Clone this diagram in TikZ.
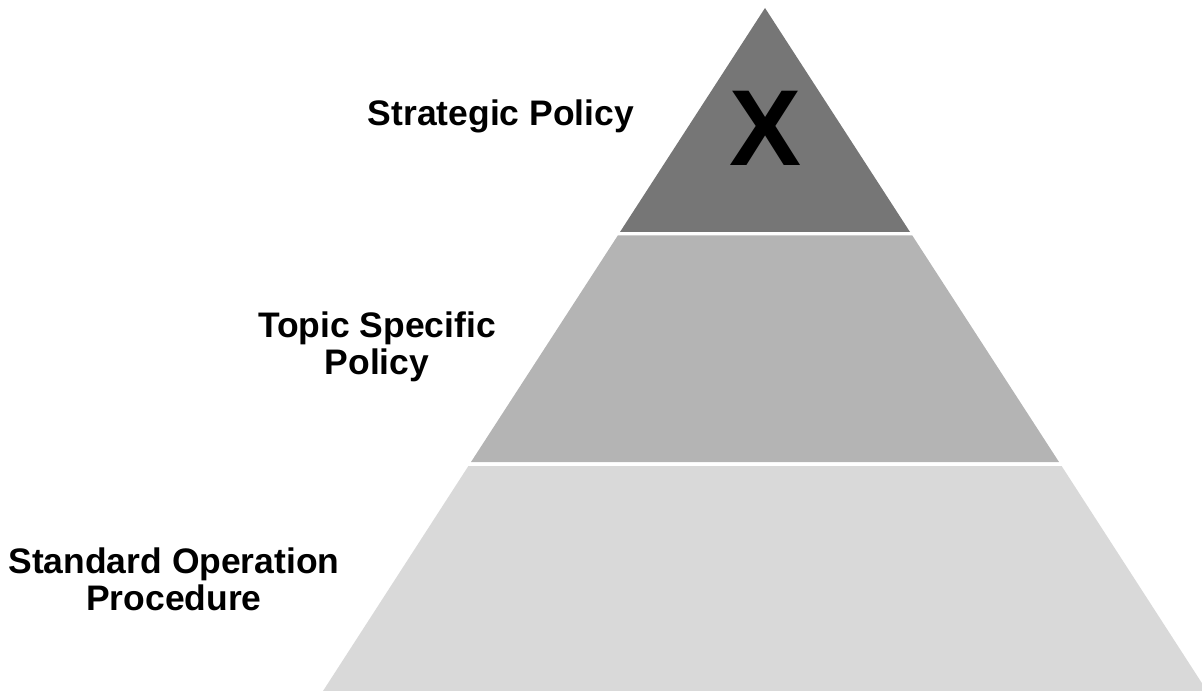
\documentclass[tikz,border=0pt]{standalone}
\usepackage{fontspec}
\setmainfont{Liberation Sans}
\definecolor{tierTop}{RGB}{118,118,118}
\definecolor{tierMid}{RGB}{180,180,180}
\definecolor{tierLow}{RGB}{217,217,217}
\tikzset{
	tierlabel/.style={anchor=center, inner sep=0.75pt, align=center, font=\fontsize{26.6}{28}\selectfont\bfseries},
}
\begin{document}
\begin{tikzpicture}[x=0.75pt,y=0.75pt,yscale=-1,xscale=1]
			\useasboundingbox (0,0) rectangle (1202,691);
			\clip (0,0) rectangle (1202,691);
			%Top tier
			\fill [tierTop] (765,8) -- (910,232) -- (620,232) -- cycle ;
			%Middle tier
			\fill [tierMid] (617.8,235.5) -- (912.3,235.5) -- (1059,462) -- (471,462) -- cycle ;
			%Bottom tier
			\fill [tierLow] (468.4,466) -- (1061.6,466) -- (1207,691) -- (323,691) -- cycle ;
			%Letter in the top tier
			\node (mark) at (766,128) [inner sep=0pt] {\fontsize{81}{81}\selectfont\bfseries X};
			
			\node (strategic) at (501,116) [tierlabel] {Strategic Policy};
			
			\node (topic) at (377,347) [tierlabel] {Topic Specific\\Policy};
			
			\node (standard) at (174,579) [tierlabel] {Standard Operation\\Procedure};
		\end{tikzpicture}
\end{document}
